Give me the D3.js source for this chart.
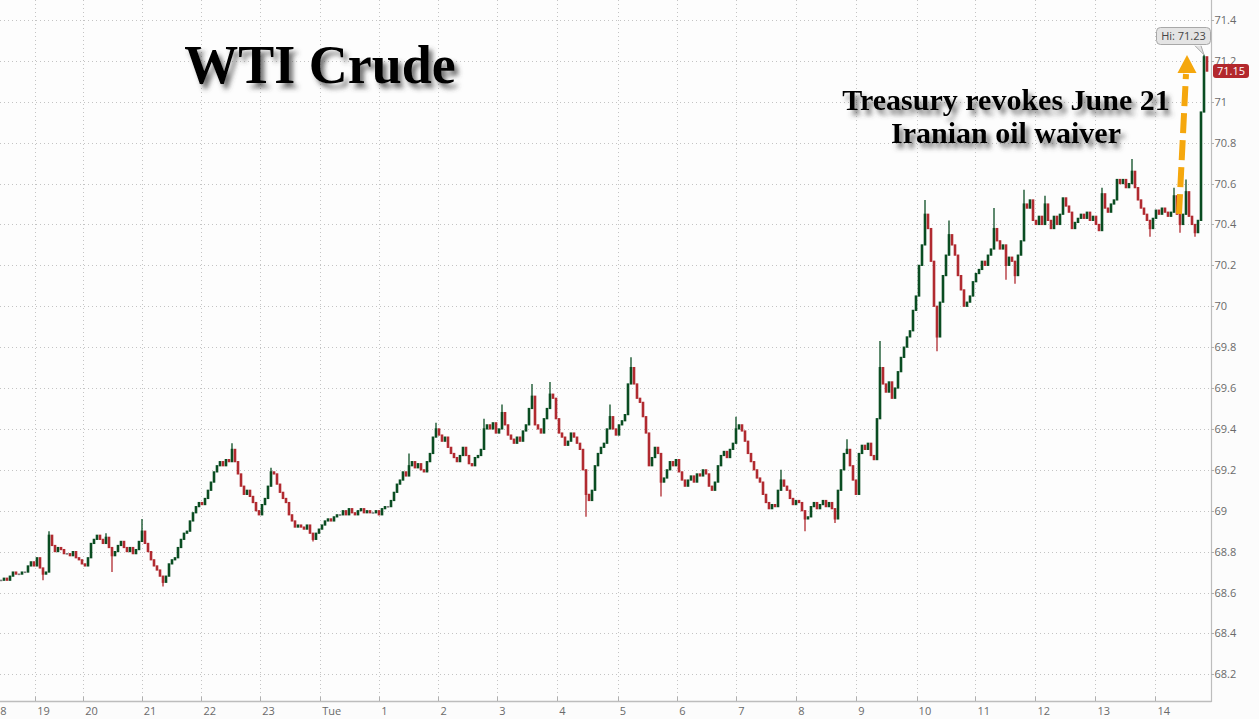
<!DOCTYPE html>
<html>
<head>
<meta charset="utf-8">
<script src="https://cdn.jsdelivr.net/npm/d3@7/dist/d3.min.js"></script>
<style>
  html, body { margin: 0; padding: 0; background: #fcfcfc; }
  svg { display: block; }
</style>
</head>
<body>
<svg id="chart" width="1259" height="719"></svg>
<script>
// ---- DATA ----
// Close price of each bar (bars are consecutive; open = previous close)
const closes = [
68.66,68.67,68.66,68.68,68.70,68.69,68.69,68.70,68.70,68.73,
68.75,68.73,68.77,68.72,68.69,68.70,68.88,68.83,68.80,68.82,
68.81,68.79,68.79,68.78,68.80,68.77,68.76,68.74,68.73,68.77,
68.84,68.86,68.88,68.86,68.84,68.87,68.82,68.78,68.80,68.83,
68.85,68.82,68.80,68.82,68.79,68.81,68.85,68.90,68.84,68.80,
68.76,68.73,68.71,68.68,68.65,68.68,68.74,68.76,68.77,68.82,
68.86,68.89,68.90,68.95,68.99,69.02,69.04,69.03,69.06,69.10,
69.14,69.19,69.22,69.24,69.22,69.25,69.24,69.30,69.24,69.18,
69.12,69.08,69.10,69.07,69.04,69.00,68.98,69.03,69.06,69.12,
69.19,69.18,69.13,69.09,69.06,69.04,68.98,68.95,68.92,68.93,
68.92,68.91,68.93,68.89,68.86,68.89,68.91,68.93,68.95,68.96,
68.95,68.97,68.98,68.98,69.00,68.98,69.01,68.99,68.98,69.00,
69.01,68.99,69.00,68.99,68.99,69.00,68.98,69.01,69.02,69.02,
69.05,69.09,69.13,69.15,69.19,69.17,69.22,69.24,69.21,69.23,
69.20,69.19,69.24,69.28,69.36,69.40,69.37,69.34,69.36,69.31,
69.28,69.26,69.24,69.27,69.31,69.27,69.23,69.22,69.26,69.27,
69.30,69.40,69.42,69.40,69.43,69.38,69.40,69.48,69.42,69.37,
69.35,69.33,69.36,69.34,69.39,69.42,69.50,69.56,69.42,69.40,
69.38,69.45,69.50,69.57,69.55,69.45,69.38,69.36,69.32,69.34,
69.38,69.36,69.33,69.30,69.20,69.08,69.05,69.10,69.22,69.28,
69.31,69.33,69.40,69.46,69.40,69.37,69.42,69.44,69.47,69.62,
69.70,69.62,69.55,69.53,69.46,69.38,69.22,69.26,69.31,69.28,
69.14,69.16,69.20,69.24,69.22,69.25,69.19,69.15,69.12,69.15,
69.17,69.14,69.18,69.17,69.20,69.18,69.12,69.10,69.14,69.22,
69.27,69.29,69.26,69.30,69.33,69.40,69.42,69.39,69.34,69.28,
69.24,69.20,69.16,69.14,69.08,69.04,69.01,69.03,69.02,69.10,
69.15,69.12,69.10,69.06,69.03,69.05,69.04,69.00,68.96,68.97,
69.02,69.04,69.01,69.03,69.05,69.02,69.04,69.01,68.96,69.10,
69.20,69.28,69.30,69.22,69.15,69.08,69.28,69.32,69.30,69.33,
69.27,69.25,69.45,69.70,69.62,69.58,69.63,69.55,69.60,69.68,
69.75,69.80,69.85,69.88,69.98,70.05,70.20,70.30,70.45,70.38,
70.22,70.00,69.85,70.02,70.15,70.25,70.35,70.30,70.25,70.15,
70.08,70.00,70.02,70.05,70.12,70.16,70.18,70.22,70.20,70.25,
70.28,70.38,70.32,70.28,70.30,70.20,70.24,70.22,70.15,70.25,
70.32,70.50,70.48,70.52,70.42,70.40,70.44,70.40,70.50,70.42,
70.38,70.44,70.40,70.45,70.53,70.49,70.46,70.38,70.41,70.43,
70.45,70.43,70.46,70.42,70.44,70.40,70.37,70.55,70.48,70.46,
70.50,70.52,70.62,70.60,70.62,70.58,70.60,70.66,70.58,70.52,
70.48,70.45,70.42,70.38,70.43,70.47,70.45,70.48,70.46,70.44,
70.46,70.54,70.45,70.40,70.45,70.56,70.44,70.40,70.36,70.42,
70.95,71.22,71.15
];
// Wick extremes that stand out from the bodies: [bar index, price]
const wickHighs = [[16,68.90],[35,68.89],[47,68.96],[77,69.33],[90,69.21],[136,69.28],
  [145,69.43],[161,69.45],[167,69.52],[177,69.62],[183,69.63],[203,69.52],[210,69.75],
  [245,69.46],[260,69.20],[282,69.35],[293,69.83],[308,70.52],[316,70.42],[331,70.48],
  [341,70.57],[348,70.54],[367,70.58],[377,70.72],[391,70.58],[395,70.62],[401,71.23]];
const wickLows = [[14,68.66],[37,68.70],[54,68.63],[104,68.85],[195,68.97],[220,69.07],
  [268,68.90],[278,68.94],[312,69.78],[335,70.13],[338,70.11],[383,70.34],[393,70.36],[398,70.34]];
// Hour ticks on the time axis, with the bar index where each falls
const xTickLabels = ["18","19","20","21","22","23","Tue","1","2","3","4","5","6","7","8","9","10","11","12","13","14"];
const xTickBars   = [-3,11.4,27.4,46.9,66.8,86.4,106.4,126.1,145.8,165.4,185.4,205.6,225.4,245.1,265.1,285.1,305.2,324.8,344.8,364.8,384.8];
const yTicks = [68.2,68.4,68.6,68.8,69.0,69.2,69.4,69.6,69.8,70.0,70.2,70.4,70.6,70.8,71.0,71.2,71.4];
const highValue = 71.23;
const lastValue = 71.15;
const titleText = "WTI Crude";
const noteLines = ["Treasury revokes June 21", "Iranian oil waiver"];

// ---- LAYOUT ----
const plotRight = 1211, axisY = 701;
const svg = d3.select("#chart");

const x = d3.scaleLinear().domain([0, closes.length - 1]).range([1, 1207]);
const y = d3.scaleLinear().domain([68.2, 71.4]).range([674.3, 20]);

const defs = svg.append("defs");
const f = defs.append("filter").attr("id", "shadow").attr("x", "-10%").attr("y", "-30%").attr("width", "130%").attr("height", "180%");
f.append("feDropShadow").attr("dx", 4).attr("dy", 5).attr("stdDeviation", 2.6)
  .attr("flood-color", "#444").attr("flood-opacity", 0.75);

// plot background
svg.append("rect").attr("x", 0).attr("y", 0).attr("width", plotRight).attr("height", axisY).attr("fill", "#fdfdfd");

// grid
const grid = svg.append("g").attr("stroke", "#c4c4c4").attr("stroke-width", 1).attr("stroke-dasharray", "1,3");
grid.selectAll("line.h").data(yTicks).join("line")
  .attr("x1", 0).attr("x2", plotRight)
  .attr("y1", d => Math.round(y(d)) + 0.5).attr("y2", d => Math.round(y(d)) + 0.5);
grid.selectAll("line.v").data(xTickBars).join("line")
  .attr("x1", d => Math.round(x(d)) + 0.5).attr("x2", d => Math.round(x(d)) + 0.5)
  .attr("y1", 0).attr("y2", axisY - 4);

// candles
const bars = closes.map((c, i) => ({ i, o: i === 0 ? c : closes[i - 1], c }));
const colorOf = d => d.c > d.o ? "#0a4d22" : (d.c < d.o ? "#b12a30" : "#7a7a7a");
const hiMap = new Map(wickHighs), loMap = new Map(wickLows);
const cg = svg.append("g");
cg.selectAll("line.wick").data(bars.filter(d => hiMap.has(d.i) || loMap.has(d.i))).join("line")
  .attr("x1", d => x(d.i)).attr("x2", d => x(d.i))
  .attr("y1", d => y(hiMap.has(d.i) ? hiMap.get(d.i) : Math.max(d.o, d.c)))
  .attr("y2", d => y(loMap.has(d.i) ? loMap.get(d.i) : Math.min(d.o, d.c)))
  .attr("stroke", colorOf).attr("stroke-width", 1.3);
cg.selectAll("rect").data(bars).join("rect")
  .attr("x", d => x(d.i) - 1.3).attr("width", 2.6)
  .attr("y", d => y(Math.max(d.o, d.c)) - 0.6)
  .attr("height", d => Math.max(1.6, y(Math.min(d.o, d.c)) - y(Math.max(d.o, d.c)) + 1.2))
  .attr("fill", colorOf);

// frame
svg.append("line").attr("x1", 0).attr("x2", plotRight + 0.5).attr("y1", axisY + 0.5).attr("y2", axisY + 0.5)
  .attr("stroke", "#bdbdbd").attr("stroke-width", 1.5);
svg.append("line").attr("x1", plotRight + 0.5).attr("x2", plotRight + 0.5).attr("y1", 0).attr("y2", axisY + 1)
  .attr("stroke", "#bdbdbd").attr("stroke-width", 1.2);

// x axis ticks & labels
const xa = svg.append("g");
xa.selectAll("line").data(xTickBars).join("line")
  .attr("x1", d => Math.round(x(d)) + 0.5).attr("x2", d => Math.round(x(d)) + 0.5)
  .attr("y1", axisY - 4).attr("y2", axisY).attr("stroke", "#b0b0b0");
xa.selectAll("text").data(xTickLabels).join("text")
  .attr("x", (d, k) => x(xTickBars[k]) + 2).attr("y", 715)
  .attr("font-family", "'Open Sans', sans-serif").attr("font-size", 11).attr("fill", "#6a6a6a")
  .text(d => d);

// y axis
const fmt = v => d3.format(".1f")(v).replace(/\.0$/, "");
const ya = svg.append("g");
ya.selectAll("line").data(yTicks).join("line")
  .attr("x1", plotRight).attr("x2", plotRight + 3)
  .attr("y1", d => Math.round(y(d)) + 0.5).attr("y2", d => Math.round(y(d)) + 0.5)
  .attr("stroke", "#b0b0b0");
ya.selectAll("text").data(yTicks).join("text")
  .attr("x", plotRight + 3.5).attr("y", d => y(d) + 4)
  .attr("font-family", "'Open Sans', sans-serif").attr("font-size", 11).attr("fill", "#6a6a6a")
  .text(fmt);

// last price tag
const ly = y(lastValue);
svg.append("rect").attr("x", plotRight + 2).attr("y", ly - 7).attr("width", 36).attr("height", 14)
  .attr("rx", 3).attr("fill", "#b3282d");
svg.append("text").attr("x", plotRight + 20).attr("y", ly + 4).attr("text-anchor", "middle")
  .attr("font-family", "'Open Sans', sans-serif").attr("font-size", 11).attr("fill", "#fff")
  .text(d3.format(".2f")(lastValue));

// Hi callout
const hiBar = closes.length - 2;
const hx = x(hiBar), hy = y(highValue);
svg.append("path")
  .attr("d", `M${hx - 9},${hy - 9} L${hx},${hy} L${hx - 3},${hy - 9}`)
  .attr("fill", "#e4e4e4").attr("stroke", "#a8a8a8");
svg.append("rect").attr("x", 1156.5).attr("y", 27.5).attr("width", 54).attr("height", 17).attr("rx", 4)
  .attr("fill", "#e4e4e4").attr("stroke", "#a8a8a8");
svg.append("text").attr("x", 1183.5).attr("y", 40).attr("text-anchor", "middle")
  .attr("font-family", "'Open Sans', sans-serif").attr("font-size", 11).attr("fill", "#444")
  .text("Hi: " + d3.format(".2f")(highValue));

// title
svg.append("text").attr("x", 320).attr("y", 83).attr("text-anchor", "middle")
  .attr("font-family", "'Liberation Serif', 'Times New Roman', serif").attr("font-weight", "bold")
  .attr("font-size", 54).attr("fill", "#000").attr("filter", "url(#shadow)")
  .text(titleText);

// annotation
svg.append("text").attr("text-anchor", "middle")
  .attr("font-family", "'Liberation Serif', 'Times New Roman', serif").attr("font-weight", "bold")
  .attr("font-size", 30).attr("fill", "#000").attr("filter", "url(#shadow)")
  .selectAll("tspan").data(noteLines).join("tspan")
  .attr("x", 1006).attr("y", (d, k) => 110 + k * 33).text(d => d);

// orange arrow
svg.append("line").attr("x1", 1179).attr("y1", 214).attr("x2", 1186).attr("y2", 74)
  .attr("stroke", "#f5a70d").attr("stroke-width", 6).attr("stroke-dasharray", "20,7");
svg.append("path").attr("d", "M1187,55 L1196.5,73 L1177.5,73 Z").attr("fill", "#f5a70d");
</script>
</body>
</html>
